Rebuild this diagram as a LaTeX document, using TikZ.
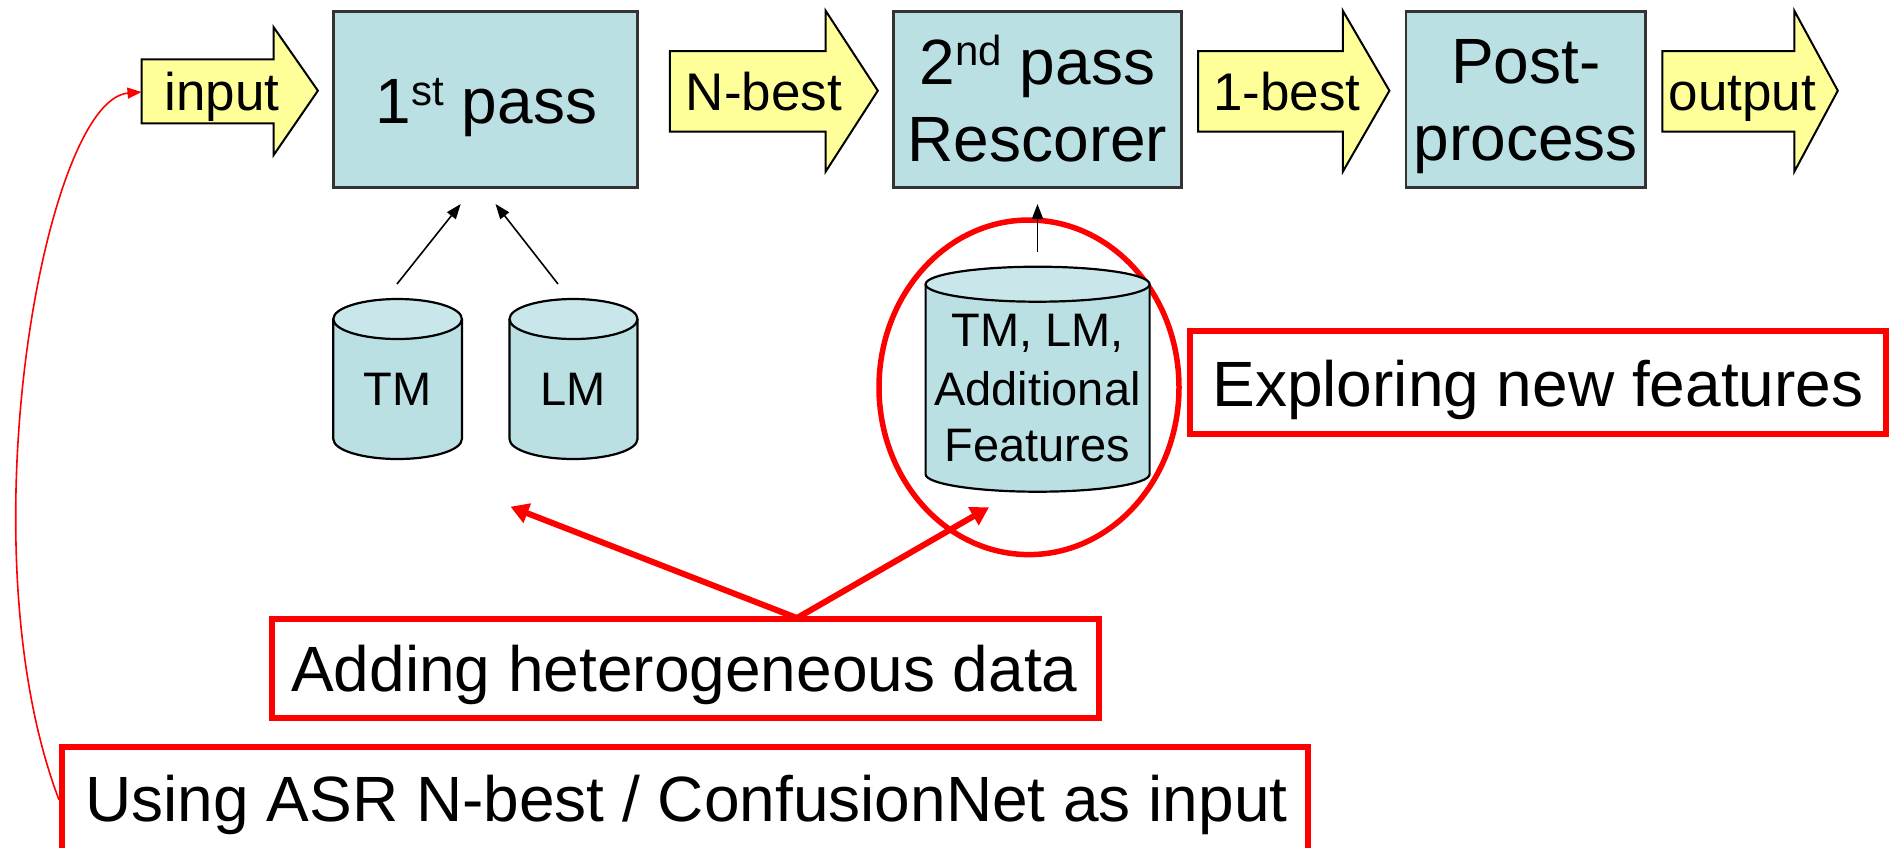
\documentclass[tikz,border=0pt]{standalone}
\usepackage{fontspec}
\setmainfont{Liberation Sans}
\usetikzlibrary{arrows.meta,calc,shapes.geometric}
\definecolor{boxblue}{RGB}{186,224,228}
\definecolor{cyltop}{RGB}{201,231,234}
\definecolor{arrowyellow}{RGB}{255,255,153}
\definecolor{myred}{RGB}{255,0,0}
\newcommand\dbcyl[5]{% cx, rx, ytop, ybottom, ry
  \draw[cylline, fill=boxblue] (#1-#2,#3) -- (#1-#2,#4) arc[start angle=180,end angle=0,x radius=#2,y radius=#5] -- (#1+#2,#3);
  \draw[cylline, fill=cyltop] (#1,#3) ellipse[x radius=#2, y radius=#5];
}
\begin{document}
\begin{tikzpicture}[x=1pt,y=-1pt,
  bluebox/.style={draw=black!80, line width=2.5pt, fill=boxblue, inner sep=0pt},
  yarrow/.style={draw=black, line width=2pt, fill=arrowyellow, line join=miter},
  redbox/.style={draw=myred, line width=6pt, fill=white, inner sep=0pt},
  cylline/.style={draw=black, line width=2.2pt},
  bigtxt/.style={font=\fontsize{64}{77}\selectfont, anchor=base, inner sep=0pt},
  midtxt/.style={font=\fontsize{53}{64}\selectfont, anchor=base, inner sep=0pt},
  smalltxt/.style={font=\fontsize{47}{57}\selectfont, anchor=base, inner sep=0pt},
  thinarrow/.style={draw=black, line width=1.6pt, -{Triangle[length=15pt,width=11pt]}},
  redarrow/.style={draw=myred, line width=6pt, -{Triangle[length=18pt,width=20pt]}},
  redcurve/.style={draw=myred, line width=1.6pt, -{Triangle[length=14pt,width=11pt]}},
  hilite/.style={draw=myred, line width=5.5pt, ellipse, inner sep=0pt},
]
\useasboundingbox (0,0) rectangle (1890,847);
\clip (0,0) rectangle (1890,847);

% yellow arrows
\filldraw[yarrow] (141.5,59.3) -- (273.7,59.3) -- (273.7,27.3) -- (317.9,90.7) -- (273.7,155) -- (273.7,123.3) -- (141.5,123.3) -- cycle;
\filldraw[yarrow] (669.8,51) -- (825.6,51) -- (825.6,10.7) -- (877.8,90.7) -- (825.6,171.7) -- (825.6,131.7) -- (669.8,131.7) -- cycle;
\filldraw[yarrow] (1198,51) -- (1342.8,51) -- (1342.8,10.7) -- (1389.4,90.7) -- (1342.8,171.7) -- (1342.8,131.7) -- (1198,131.7) -- cycle;
\filldraw[yarrow] (1662.3,51) -- (1794.3,51) -- (1794.3,10.7) -- (1837.8,90.7) -- (1794.3,171.7) -- (1794.3,131.7) -- (1662.3,131.7) -- cycle;
\node[midtxt] (tin) at (222,110.7) {input};
\node[midtxt] (tnb) at (764,110.7) {N-best};
\node[midtxt] (tob) at (1286.7,110.7) {1-best};
\node[midtxt] (tout) at (1742.5,110.7) {output};
\coordinate (inL) at (141.5,92);

% blue boxes
\node[bluebox, minimum width=304pt, minimum height=176pt] (p1) at (485.5,99.3) {};
\node[bluebox, minimum width=287.8pt, minimum height=176.4pt] (p2) at (1037.5,99.5) {};
\node[bluebox, minimum width=239.6pt, minimum height=176.4pt] (pp) at (1525.8,99.5) {};
\node[bigtxt] (p1t) at (486.5,123) {1\raisebox{18pt}{\fontsize{42}{42}\selectfont st} pass};
\node[bigtxt] (p2t) at (1037.5,84) {2\raisebox{19pt}{\fontsize{42}{42}\selectfont nd} pass};
\node[bigtxt] (p2u) at (1037.5,161) {Rescorer};
\node[bigtxt] (ppt) at (1525.8,83.3) {Post-};
\node[bigtxt] (ppu) at (1525.8,160) {process};

% highlight ellipse
\node[hilite, minimum width=300pt, minimum height=334.6pt] (hl) at (1029,387.3) {};

% cylinders
\dbcyl{397.6}{64.3}{319}{439}{20}
\dbcyl{573.5}{64}{319}{439}{20}
\dbcyl{1037.6}{112}{284.2}{474.2}{17.5}
\node[smalltxt] (tm) at (397.6,405) {TM};
\node[smalltxt] (lm) at (573.4,405) {LM};
\node[smalltxt] (c3a) at (1037.5,346.7) {TM, LM,};
\node[smalltxt] (c3b) at (1037.5,405) {Additional};
\node[smalltxt] (c3c) at (1037.5,461.7) {Features};

% black arrows
\coordinate (tmA) at (397,284);
\coordinate (tmB) at (460.7,204);
\coordinate (lmA) at (558,284);
\coordinate (lmB) at (495.5,204);
\coordinate (cA) at (1037.5,251.7);
\coordinate (cB) at (1037.5,204);
\draw[thinarrow] (tmA) -- (tmB);
\draw[thinarrow] (lmA) -- (lmB);
\draw[thinarrow] (cA) -- (cB);

% red boxes
\node[redbox, minimum width=827pt, minimum height=99.8pt] (add) at (685.8,668.4) {};
\node[bigtxt] (addt) at (684.5,691.7) {Adding heterogeneous data};
\node[redbox, minimum width=1246.5pt, minimum height=104.5pt] (use) at (685.2,799.7) {};
\node[bigtxt] (uset) at (686.5,821.7) {Using ASR N-best / ConfusionNet as input};
\node[redbox, minimum width=695.7pt, minimum height=103pt] (exp) at (1537.9,382.3) {};
\node[bigtxt] (expt) at (1538,406) {Exploring new features};

% red arrows
\coordinate (fork) at (797,618);
\coordinate (tgtA) at (510.5,506.7);
\coordinate (tgtB) at (989,507.3);
\draw[redarrow] (fork) -- (tgtA);
\draw[redarrow] (fork) -- (tgtB);

% red curve
\draw[redcurve] (use.west) .. controls (-37,547) and (45,100) .. (inL);
\end{tikzpicture}
\end{document}
